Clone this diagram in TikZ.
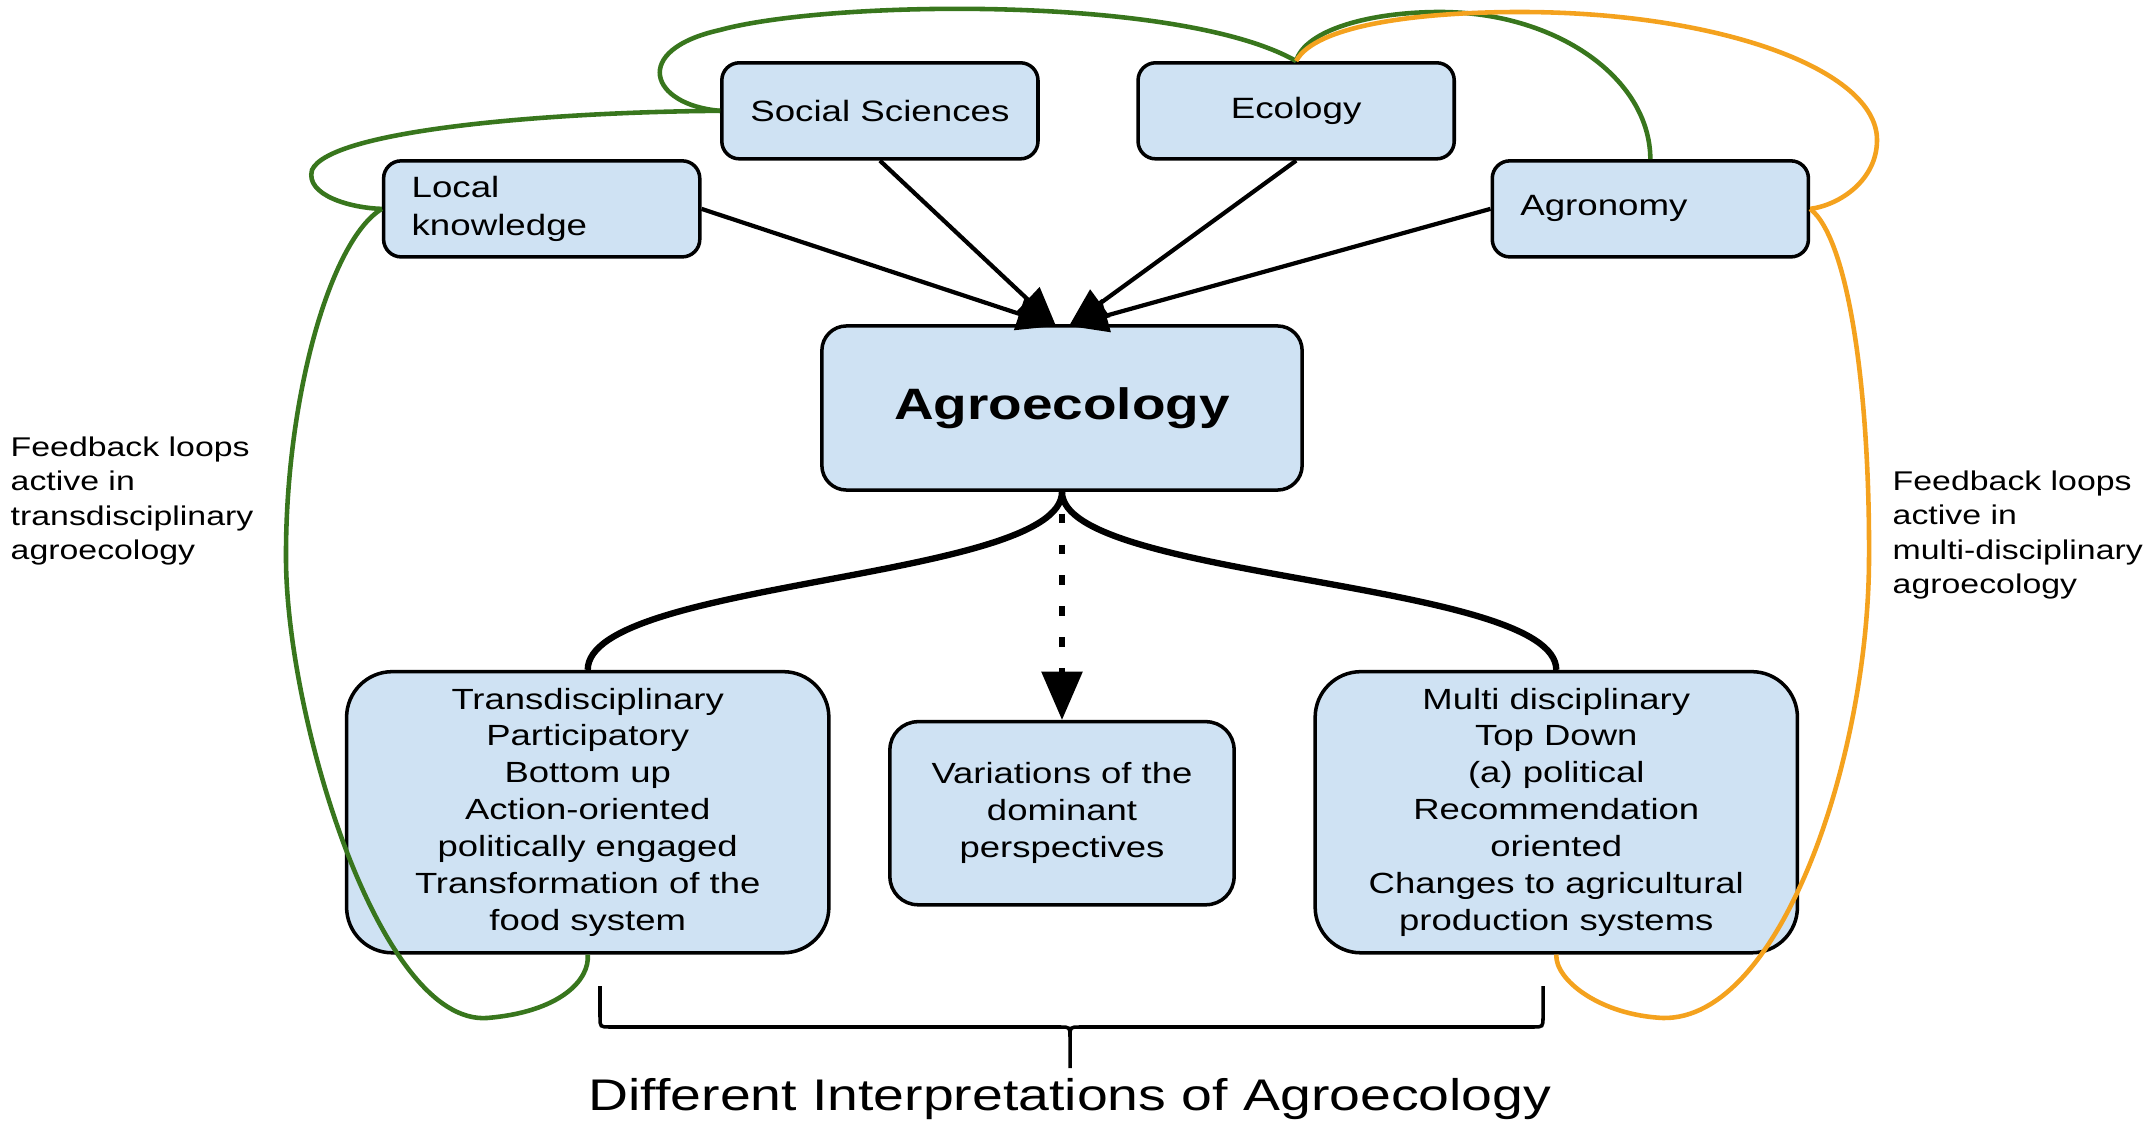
\documentclass[tikz,border=0pt]{standalone}
\usepackage{fontspec}
\setmainfont{Liberation Sans}[FakeStretch=1.25]
\usetikzlibrary{arrows.meta}
\usetikzlibrary{positioning}
\tikzset{>=latex}

\definecolor{boxblue}{HTML}{CFE2F3}
\definecolor{loopgreen}{HTML}{38761D}
\definecolor{looporange}{HTML}{F4A21E}

\begin{document}
\begin{tikzpicture}[x=0.01cm, y=-0.01cm, node distance=1cm, on grid,
	box/.style={draw, line width=1pt, fill=boxblue, inner sep=0pt, align=center, font=\fontsize{8.3}{10.5}\selectfont},
	topbox/.style={box, minimum width=3.16cm, minimum height=0.96cm, rounded corners=5pt, font=\fontsize{8.35}{10.8}\selectfont},
	leftbox/.style={topbox, align=left, text width=2.6cm, inner xsep=0.28cm},
	bigbox/.style={box, minimum width=4.82cm, minimum height=2.81cm, rounded corners=13pt},
	note/.style={align=left, inner sep=0pt, anchor=north west, font=\fontsize{7.7}{9.8}\selectfont},
	source/.style={line width=1.2pt, -{Triangle[length=11pt,width=9.5pt]}},
	branch/.style={line width=1.8pt},
	dotarrow/.style={line width=1.5pt, dash pattern=on 2.6pt off 6.2pt, dash phase=2.6pt, -{Triangle[length=13.7pt,width=11.4pt]}},
	greenloop/.style={draw=loopgreen, line width=1.3pt},
	orangeloop/.style={draw=looporange, line width=1.3pt},
	bracket/.style={line width=1pt}]
		\useasboundingbox (0,0) rectangle (2148,1128);
		\node[box, minimum width=4.8cm, minimum height=1.64cm, rounded corners=7pt, font=\bfseries\fontsize{12.5}{15}\selectfont] (agro) at (1062,408) {Agroecology};
		\node[topbox] (social) [above left=2.97cm and 1.82cm of agro] {Social Sciences};
		\node[topbox] (ecology) [above right=2.97cm and 2.34cm of agro] {Ecology};
		\node[leftbox] (local) [above left=1.99cm and 5.2cm of agro] {Local\\knowledge};
		\node[leftbox] (agronomy) [above right=1.99cm and 5.88cm of agro] {Agronomy};
		\node[bigbox] (trans) [below left=4.04cm and 4.74cm of agro] {Transdisciplinary\\Participatory\\Bottom up\\Action-oriented\\politically engaged\\Transformation of the\\food system};
		\node[box, minimum width=3.44cm, minimum height=1.83cm, rounded corners=8pt] (variations) [below=4.05cm of agro] {Variations of the\\dominant\\perspectives};
		\node[bigbox] (multi) [below right=4.04cm and 4.94cm of agro] {Multi disciplinary\\Top Down\\(a) political\\Recommendation\\oriented\\Changes to agricultural\\production systems};
		\node[note] (notetrans) at (10,436) {Feedback loops\\active in\\transdisciplinary\\agroecology};
		\node[note] (notemulti) at (1892,470) {Feedback loops\\active in\\multi-disciplinary\\agroecology};

		% disciplines feeding in
		\coordinate (tipL) at (1056,326);
		\coordinate (tipR) at (1069,326);
		\draw[source] (local.east) -- (tipL);
		\draw[source] (social.south) -- (tipL);
		\draw[source] (ecology.south) -- (tipR);
		\draw[source] (agronomy.west) -- (tipR);

		% the three interpretations
		\draw[branch] (agro.south) .. controls (1062,580) and (588,580) .. (trans.north);
		\draw[branch] (agro.south) .. controls (1062,580) and (1556,580) .. (multi.north);
		\draw[dotarrow] (agro.south) -- (variations.north);

		% feedback loops
		\draw[greenloop] (social.west) .. controls (650,105) and (630,50) .. (720,30) .. controls (830,0) and (1180,-5) .. (ecology.north);
		\draw[greenloop] (social.west) .. controls (550,112) and (330,130) .. (312,170) .. controls (305,195) and (350,208) .. (local.west);
		\draw[greenloop] (ecology.north) .. controls (1305,30) and (1370,12) .. (1440,12) .. controls (1556,12) and (1650,78) .. (agronomy.north);
		\draw[greenloop] (local.west) .. controls (330,240) and (285,400) .. (286,560) .. controls (287,720) and (380,1025) .. (487,1018) .. controls (560,1012) and (590,980) .. (trans.south);
		\draw[orangeloop] (ecology.north) .. controls (1315,25) and (1420,12) .. (1520,12) .. controls (1717,12) and (1877,69) .. (1877,140) .. controls (1877,180) and (1840,205) .. (agronomy.east);
		\draw[orangeloop] (agronomy.east) .. controls (1850,240) and (1870,400) .. (1869,560) .. controls (1868,760) and (1780,1020) .. (1663,1018) .. controls (1600,1015) and (1555,980) .. (multi.south);

		% brace under the interpretations
		\coordinate (braceL) at (600,986);
		\coordinate (braceR) at (1543,986);
		\coordinate (bracetip) at (1070,1068);
		\draw[bracket] (braceL) -- (600,1017) .. controls (600,1027) .. (610,1027) -- (1060,1027) .. controls (1070,1027) .. (1070,1037) -- (bracetip);
		\draw[bracket] (braceR) -- (1543,1017) .. controls (1543,1027) .. (1533,1027) -- (1080,1027) .. controls (1070,1027) .. (1070,1037);
		\node[font=\fontsize{12.6}{15}\selectfont] (caption) at (1070,1099) {Different Interpretations of Agroecology};
	\end{tikzpicture}
\end{document}
